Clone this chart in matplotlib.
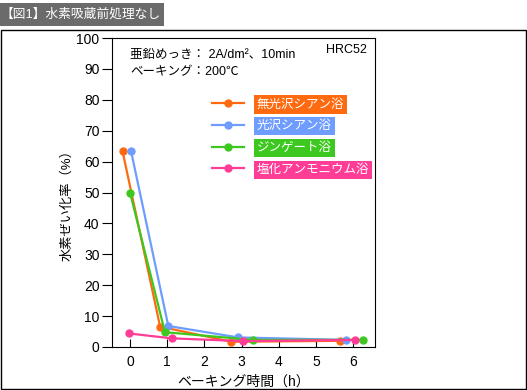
import matplotlib
matplotlib.use("Agg")
import matplotlib.pyplot as plt
from matplotlib.patches import Rectangle

plt.rcParams['font.family'] = ['Liberation Sans', 'Noto Sans CJK JP', 'DejaVu Sans']

# data (x is shifted a little per series so points don't overlap)
labels = ['無光沢シアン浴', '光沢シアン浴', 'ジンゲート浴', '塩化アンモニウム浴']
colors = ['#ff6a10', '#6e9cff', '#3cc81e', '#ff3d96']
xs = [
    [-0.2, 0.81, 2.73, 5.65],
    [0.03, 1.03, 2.91, 5.82],
    [0.0, 0.94, 3.3, 6.27],
    [-0.04, 1.12, 3.03, 6.05],
]
ys = [
    [63.3, 6.6, 1.7, 2.0],
    [63.3, 6.8, 3.1, 2.3],
    [50.0, 4.8, 2.3, 2.3],
    [4.4, 2.8, 1.9, 2.3],
]
xticks = [0, 1, 2, 3, 4, 5, 6]
yticks = list(range(0, 101, 10))

W, H = 527, 390
fig = plt.figure(figsize=(W / 100, H / 100), dpi=100)

# outer frame and title bar
fig.patches.append(Rectangle((1 / W, 1 - 389 / H), 525 / W, 359 / H,
                             transform=fig.transFigure, fill=False, ec='black', lw=1))
fig.patches.append(Rectangle((0, 1 - 26 / H), 164 / W, 23 / H,
                             transform=fig.transFigure, fc='#6b6b6b', ec='none'))
fig.text(0.5 / W, 1 - 14.5 / H, '【図1】水素吸蔵前処理なし', color='white', fontsize=9.2,
         va='center', ha='left')

ax = fig.add_axes([112 / W, 1 - 347 / H, 263 / W, 309 / H])
for x, y, c, lab in zip(xs, ys, colors, labels):
    ax.plot(x, y, color=c, lw=1.6, marker='o', markersize=5, label=lab)

ax.set_xlim(-0.484, 6.59)
ax.set_ylim(0, 100)
ax.set_xticks(xticks)
ax.set_yticks(yticks)
ax.tick_params(axis='x', direction='in', length=6, labelsize=10, pad=6)
ax.tick_params(axis='y', direction='out', length=7, labelsize=10, pad=2)
ax.set_xlabel('ベーキング時間（h）', fontsize=10, labelpad=4)
ax.set_ylabel('水素ぜい化率（%）', fontsize=9.5)
ax.yaxis.set_label_coords(-0.148, 0.47)

ax.text(0.068, 0.945, '亜鉛めっき： 2A/dm²、10min', transform=ax.transAxes,
        fontsize=9, va='center')
ax.text(0.068, 0.89, 'ベーキング：200℃', transform=ax.transAxes,
        fontsize=9, va='center')
ax.text(0.97, 0.96, 'HRC52', transform=ax.transAxes, fontsize=9,
        va='center', ha='right')

leg = ax.legend(loc='upper left', bbox_to_anchor=(0.36, 0.82), frameon=False,
                handlelength=2.6, handletextpad=1.0, labelspacing=0.78,
                fontsize=9, borderaxespad=0)
for t, c in zip(leg.get_texts(), colors):
    t.set_color('white')
    t.set_bbox(dict(boxstyle='square,pad=0.25', fc=c, ec='none'))

fig.savefig('out.png', dpi=100)
